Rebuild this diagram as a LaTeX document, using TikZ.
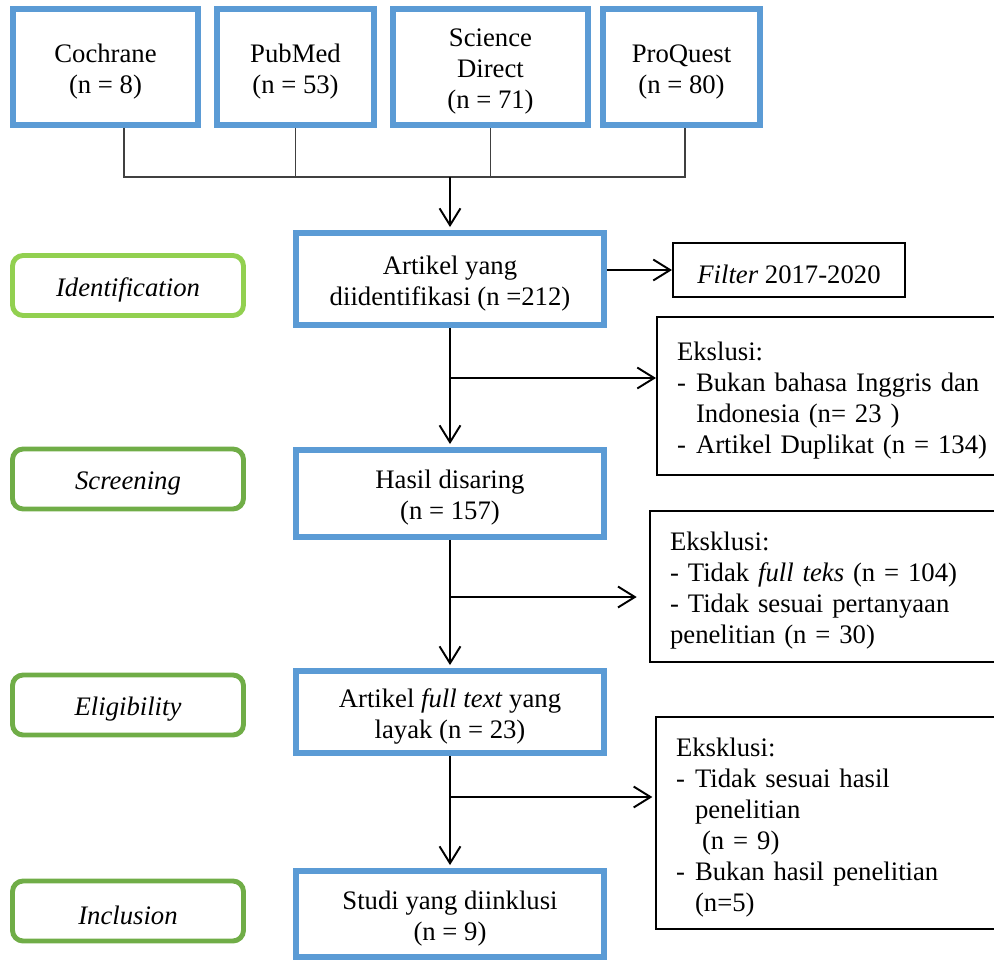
\documentclass[tikz,border=0pt]{standalone}
\usepackage{fontspec}
\setmainfont{Liberation Serif}
\usetikzlibrary{arrows.meta}
\definecolor{boxblue}{HTML}{5B9BD5}
\definecolor{idgreen}{HTML}{92D050}
\definecolor{stgreen}{HTML}{70AD47}
\definecolor{busgray}{HTML}{404040}
\newcommand{\excldash}{\makebox[10.8pt][l]{-}}
\newcommand{\exclind}{\hspace*{10.8pt}}
\newcommand{\toprule}{\rule{0pt}{15.5pt}}
\begin{document}
\begin{tikzpicture}[x=0.02cm, y=-0.02cm,
  every node/.style={font=\fontsize{15.2}{17.6}\selectfont, align=center, execute at begin node={\rule{0pt}{15.5pt}}},
  dbbox/.style={draw=boxblue, line width=3.4pt, minimum height=2.32cm, inner sep=2pt},
  flowbox/.style={draw=boxblue, line width=3.4pt, minimum width=6.16cm},
  phase/.style={draw=#1, line width=2.8pt, rounded corners=6pt, minimum width=4.62cm, minimum height=1.2cm, font=\fontsize{15.2}{17.6}\selectfont\itshape},
  exclbox/.style={draw, line width=1.2pt, text width=7.2cm, inner xsep=0.4cm, align=left, anchor=west},
  arr/.style={-{Straight Barb[length=9.6pt,width=11.9pt]}, line width=1.1pt},
  busline/.style={draw=busgray, line width=0.7pt}]
  \useasboundingbox (0,0) rectangle (994,964);
  % databases
  \node[dbbox, minimum width=3.7cm] (cochrane) at (105.5,67) {\toprule Cochrane\\(n = 8)};
  \node[dbbox, minimum width=3.14cm] (pubmed) at (295.5,67) {\toprule PubMed\\(n = 53)};
  \node[dbbox, minimum width=3.9cm] (scidir) at (490.5,67) {\toprule Science\\Direct\\(n = 71)};
  \node[dbbox, minimum width=3.14cm] (proquest) at (681.5,67) {\toprule ProQuest\\(n = 80)};
  % main flow
  \node[flowbox, minimum height=1.84cm] (found) at (450,279) {\toprule Artikel yang\\diidentifikasi (n =212)};
  \node[flowbox, minimum height=1.74cm] (screened) at (450,493.5) {\toprule Hasil disaring\\(n = 157)};
  \node[flowbox, minimum height=1.64cm] (eligible) at (450,712) {\toprule Artikel \textit{full text} yang\\layak (n = 23)};
  \node[flowbox, minimum height=1.72cm] (included) at (450,914) {\toprule Studi yang diinklusi\\(n = 9)};
  % phases
  \node[phase=idgreen] (identification) at (128,285.5) {Identification};
  \node[phase=stgreen] (screening) at (128,479) {Screening};
  \node[phase=stgreen] (eligibility) at (128,705) {Eligibility};
  \node[phase=stgreen] (inclusion) at (128,911) {Inclusion};
  % side boxes
  \node[draw, line width=1.2pt, minimum width=4.64cm, minimum height=1.08cm] (filter) at (789,270) {\textit{Filter} 2017-2020};
  \node[exclbox, minimum height=3.16cm] (excl1) at (656,396) {Ekslusi:\\\excldash Bukan bahasa Inggris dan\\\exclind Indonesia (n= 23 )\\\excldash Artikel Duplikat (n = 134)};
  \node[exclbox, minimum height=3.02cm] (excl2) at (649,586.5) {Eksklusi:\\- Tidak \textit{full teks} (n = 104)\\- Tidak sesuai pertanyaan\\penelitian (n = 30)};
  \node[exclbox, minimum height=4.24cm] (excl3) at (655,823) {Eksklusi:\\\excldash Tidak sesuai hasil\\\exclind penelitian\\\exclind\hspace*{4pt}(n = 9)\\\excldash Bukan hasil penelitian\\\exclind(n=5)};
  % connectors
  \coordinate (busL) at (124,177);
  \coordinate (busR) at (685,177);
  \draw[busline] (cochrane.south -| busL) -- (busL) -- (busR) -- (proquest.south -| busR);
  \draw[busline] (pubmed.south) -- (pubmed.south |- busL);
  \draw[busline] (scidir.south) -- (scidir.south |- busL);
  \draw[arr, shorten >=1.7pt] (found.north |- busL) -- (found.north);
  \draw[arr] (found.east |- filter.west) -- (filter.west);
  \coordinate (b1) at (450,378);
  \coordinate (b2) at (450,597);
  \coordinate (b3) at (450,797);
  \draw[arr, shorten >=1.7pt] (found.south) -- (screened.north);
  \draw[arr, shorten >=1.7pt] (screened.south) -- (eligible.north);
  \draw[arr, shorten >=1.7pt] (eligible.south) -- (included.north);
  \draw[arr] (b1) -- (excl1.west |- b1);
  \draw[arr, shorten >=7pt] (b2) -- (excl2.west |- b2);
  \draw[arr, shorten >=1.5pt] (b3) -- (excl3.west |- b3);
\end{tikzpicture}
\end{document}
